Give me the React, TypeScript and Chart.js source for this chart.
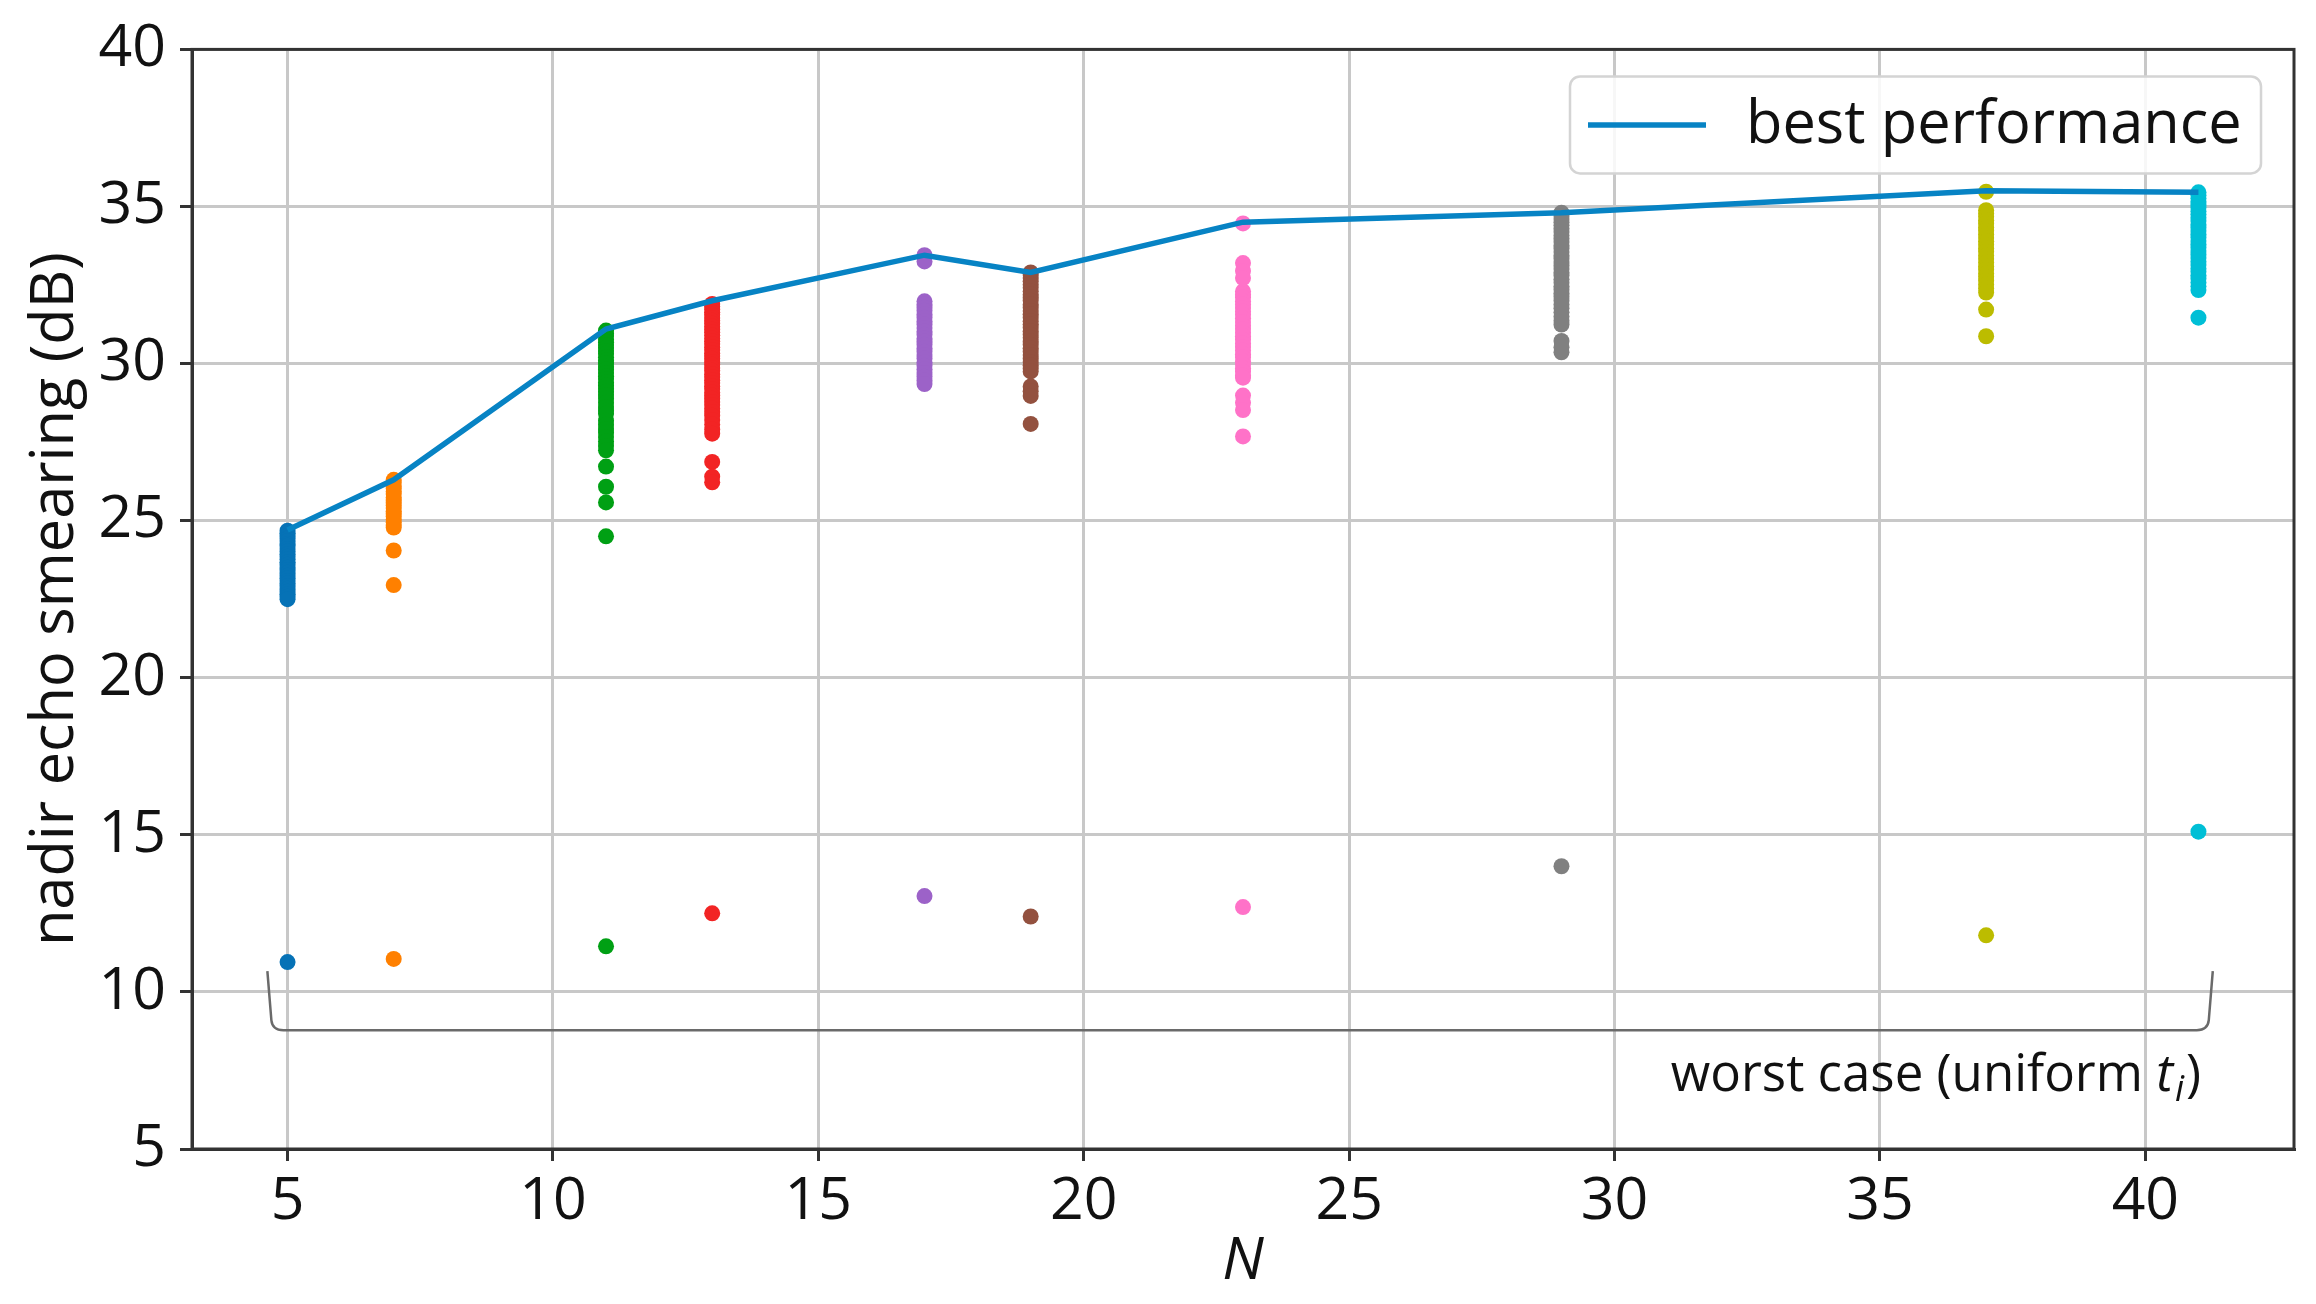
import React, { useEffect, useRef } from "react";
import { Chart, registerables } from "chart.js";

Chart.register(...registerables);

// ---------- data ----------
const nValues = [5, 7, 11, 13, 17, 19, 23, 29, 37, 41];
const bestPerformance = [24.7, 26.3, 31.1, 32.0, 33.45, 32.9, 34.5, 34.8, 35.5, 35.45];
const worstCase = [10.95, 11.05, 11.45, 12.5, 13.05, 12.4, 12.7, 14.0, 11.8, 15.1];

const samplesN5 = [24.68, 24.6, 24.52, 24.43, 24.35, 24.26, 24.2, 24.1, 24.02, 23.93, 23.85, 23.77, 23.68, 23.6, 23.5, 23.43, 23.34, 23.25, 23.17, 23.08, 23.0, 22.92, 22.83, 22.74, 22.66, 22.58, 22.5];
const samplesN7 = [26.3, 26.21, 26.1, 26.02, 25.93, 25.85, 25.74, 25.66, 25.57, 25.48, 25.4, 25.3, 25.22, 25.13, 25.04, 24.95, 24.86, 24.78, 24.05, 22.95];
const samplesN11 = [31.05, 30.96, 30.88, 30.77, 30.68, 30.59, 30.5, 30.4, 30.31, 30.2, 30.1, 30.02, 29.9, 29.81, 29.7, 29.6, 29.51, 29.4, 29.3, 29.2, 29.1, 29.0, 28.88, 28.75, 28.62, 28.5, 28.4, 28.18, 28.05, 27.92, 27.8, 27.66, 27.52, 27.38, 27.24, 26.72, 26.08, 25.58, 24.5];
const samplesN13 = [31.9, 31.82, 31.72, 31.63, 31.55, 31.45, 31.36, 31.27, 31.18, 31.08, 31.0, 30.9, 30.8, 30.71, 30.62, 30.52, 30.43, 30.33, 30.24, 30.15, 30.05, 29.96, 29.86, 29.77, 29.66, 29.57, 29.47, 29.38, 29.28, 29.19, 29.08, 28.98, 28.88, 28.78, 28.68, 28.57, 28.46, 28.34, 28.2, 28.06, 27.9, 27.77, 26.87, 26.4, 26.22];
const samplesN17 = [33.45, 33.25, 31.98, 31.88, 31.78, 31.68, 31.57, 31.46, 31.35, 31.24, 31.13, 31.02, 30.92, 30.8, 30.7, 30.6, 30.49, 30.38, 30.27, 30.16, 30.04, 29.93, 29.82, 29.7, 29.58, 29.46, 29.35];
const samplesN19 = [32.9, 32.82, 32.72, 32.62, 32.52, 32.41, 32.3, 32.2, 32.1, 32.0, 31.88, 31.78, 31.67, 31.57, 31.46, 31.35, 31.25, 31.14, 31.03, 30.92, 30.82, 30.7, 30.6, 30.49, 30.38, 30.27, 30.16, 30.05, 29.95, 29.84, 29.75, 29.27, 29.12, 28.97, 28.08];
const samplesN23 = [34.46, 33.2, 32.95, 32.72, 32.3, 32.2, 32.1, 31.98, 31.88, 31.77, 31.66, 31.55, 31.44, 31.32, 31.2, 31.1, 30.98, 30.87, 30.76, 30.64, 30.53, 30.42, 30.3, 30.19, 30.07, 29.96, 29.85, 29.74, 29.62, 29.55, 28.98, 28.75, 28.52, 27.68];
const samplesN29 = [34.8, 34.7, 34.6, 34.5, 34.4, 34.3, 34.19, 34.08, 33.98, 33.87, 33.76, 33.66, 33.55, 33.44, 33.34, 33.23, 33.12, 33.01, 32.9, 32.8, 32.68, 32.57, 32.46, 32.35, 32.24, 32.13, 32.0, 31.88, 31.76, 31.63, 31.5, 31.36, 31.24, 30.72, 30.52, 30.36];
const samplesN37 = [35.47, 34.88, 34.78, 34.67, 34.56, 34.45, 34.34, 34.23, 34.12, 34.0, 33.89, 33.78, 33.67, 33.56, 33.44, 33.33, 33.22, 33.1, 32.99, 32.87, 32.76, 32.64, 32.52, 32.4, 32.26, 31.72, 30.87];
const samplesN41 = [35.45, 35.36, 35.26, 35.16, 35.06, 34.96, 34.85, 34.75, 34.64, 34.54, 34.43, 34.33, 34.22, 34.12, 34.01, 33.9, 33.8, 33.69, 33.58, 33.47, 33.36, 33.25, 33.14, 33.03, 32.92, 32.81, 32.7, 32.58, 32.46, 32.34, 31.46];

const allSamples = [samplesN5, samplesN7, samplesN11, samplesN13, samplesN17, samplesN19, samplesN23, samplesN29, samplesN37, samplesN41];

const seriesColors = ["#0672b6", "#ff8000", "#00a014", "#f22424", "#9c62c8", "#93513f", "#ff72c8", "#808080", "#bcbc00", "#00bfd6"];
const lineColor = "#0783c4";

const xTicks = [5, 10, 15, 20, 25, 30, 35, 40];
const yTicks = [5, 10, 15, 20, 25, 30, 35, 40];

const legendLabel = "best performance";
const xTitle = "N";
const yTitle = "nadir echo smearing (dB)";
const annotationParts = ["worst case (uniform ", "t", "i", ")"];

const FONT = "'Open Sans', 'Noto Sans', sans-serif";
Chart.defaults.font.family = FONT;

// ---------- plugins ----------
const framePlugin = {
  id: "frame",
  afterDatasetsDraw(chart: any) {
    const { ctx, chartArea: a } = chart;
    ctx.save();
    ctx.strokeStyle = "#333";
    ctx.lineWidth = 3;
    ctx.strokeRect(a.left, a.top, a.right - a.left, a.bottom - a.top);
    ctx.restore();
  },
};

const bracketPlugin = {
  id: "bracket",
  afterDatasetsDraw(chart: any) {
    const { ctx } = chart;
    const xs = chart.scales.x;
    const ys = chart.scales.y;
    const x0 = xs.getPixelForValue(4.62);
    const x1 = xs.getPixelForValue(41.27);
    const yT = ys.getPixelForValue(10.66);
    const yB = ys.getPixelForValue(8.78);
    ctx.save();
    ctx.strokeStyle = "#6a6a6a";
    ctx.lineWidth = 2.5;
    ctx.beginPath();
    ctx.moveTo(x0, yT);
    ctx.lineTo(x0 + 4, yB - 10);
    ctx.quadraticCurveTo(x0 + 5, yB, x0 + 16, yB);
    ctx.lineTo(x1 - 16, yB);
    ctx.quadraticCurveTo(x1 - 5, yB, x1 - 4, yB - 10);
    ctx.lineTo(x1, yT);
    ctx.stroke();

    // text
    const size = 51;
    const normal = `${size}px ${FONT}`;
    const italic = `italic ${size}px ${FONT}`;
    const sub = `italic ${Math.round(size * 0.7)}px ${FONT}`;
    const fonts = [normal, italic, sub, normal];
    const widths = annotationParts.map((t, i) => {
      ctx.font = fonts[i];
      return ctx.measureText(t).width;
    });
    const total = widths.reduce((s, w) => s + w, 0) + 4;
    const right = xs.getPixelForValue(41.05);
    const base = ys.getPixelForValue(6.85);
    let x = right - total;
    ctx.fillStyle = "#111";
    ctx.textBaseline = "alphabetic";
    ctx.textAlign = "left";
    annotationParts.forEach((t, i) => {
      ctx.font = fonts[i];
      ctx.fillText(t, x, i === 2 ? base + 10 : base);
      x += widths[i] + (i === 1 ? 2 : 0) + (i === 2 ? 2 : 0);
    });
    ctx.restore();
  },
};

const boxLegendPlugin = {
  id: "boxLegend",
  afterDraw(chart: any) {
    const { ctx, chartArea: a } = chart;
    const w = 691;
    const h = 97;
    const x = a.right - 33 - w;
    const y = a.top + 27;
    ctx.save();
    ctx.beginPath();
    ctx.roundRect(x, y, w, h, 10);
    ctx.fillStyle = "rgba(255,255,255,0.85)";
    ctx.fill();
    ctx.strokeStyle = "#d4d4d4";
    ctx.lineWidth = 2.5;
    ctx.stroke();
    ctx.strokeStyle = lineColor;
    ctx.lineWidth = 5.5;
    ctx.beginPath();
    ctx.moveTo(x + 18, y + h / 2);
    ctx.lineTo(x + 136, y + h / 2);
    ctx.stroke();
    ctx.fillStyle = "#111";
    ctx.font = `59.5px ${FONT}`;
    ctx.textBaseline = "middle";
    ctx.textAlign = "left";
    ctx.fillText(chart.data.datasets[0].label, x + 176, y + h / 2 + 1);
    ctx.restore();
  },
};

export default function App() {
  const ref = useRef<HTMLCanvasElement>(null);

  useEffect(() => {
    if (!ref.current) return;

    const lineDataset = {
      type: "line" as const,
      label: legendLabel,
      data: nValues.map((n, i) => ({ x: n, y: bestPerformance[i] })),
      borderColor: lineColor,
      backgroundColor: lineColor,
      borderWidth: 5.5,
      pointRadius: 0,
      tension: 0,
      order: 0,
    };

    const scatterDatasets = nValues.map((n, i) => ({
      type: "scatter" as const,
      label: `N=${n}`,
      data: [...allSamples[i], worstCase[i]].map((v) => ({ x: n, y: v })),
      backgroundColor: seriesColors[i],
      borderColor: seriesColors[i],
      borderWidth: 0,
      pointRadius: 8,
      order: 1,
    }));

    const chart = new Chart(ref.current, {
      type: "scatter",
      data: { datasets: [lineDataset as any, ...scatterDatasets] },
      options: {
        animation: false,
        responsive: false,
        layout: { padding: { top: 43, right: 22, left: 0, bottom: 0 } },
        plugins: { legend: { display: false }, tooltip: { enabled: false } },
        scales: {
          x: {
            type: "linear",
            min: 3.2,
            max: 42.8,
            afterBuildTicks: (s: any) => {
              s.ticks = xTicks.map((v) => ({ value: v }));
            },
            afterFit: (s: any) => {
              s.height = 155;
            },
            grid: {
              color: "#c8c8c8",
              lineWidth: 3,
              tickLength: 12,
              tickColor: "#333",
              tickWidth: 3,
            },
            border: { display: true, color: "#333", width: 3 },
            ticks: { font: { size: 59 }, color: "#111", padding: 6, maxRotation: 0 },
            title: {
              display: true,
              text: xTitle,
              font: { size: 59, style: "italic" },
              color: "#111",
              padding: { top: 0, bottom: 6 },
            },
          },
          y: {
            type: "linear",
            min: 5,
            max: 40,
            afterBuildTicks: (s: any) => {
              s.ticks = yTicks.map((v) => ({ value: v }));
            },
            afterFit: (s: any) => {
              s.width = 192;
            },
            grid: {
              color: "#c8c8c8",
              lineWidth: 3,
              tickLength: 12,
              tickColor: "#333",
              tickWidth: 3,
            },
            border: { display: true, color: "#333", width: 3 },
            ticks: { font: { size: 59 }, color: "#111", padding: 14 },
            title: {
              display: true,
              text: yTitle,
              font: { size: 59.5 },
              color: "#111",
              padding: { top: 20, bottom: 0 },
            },
          },
        },
      },
      plugins: [framePlugin, bracketPlugin, boxLegendPlugin],
    });

    return () => chart.destroy();
  }, []);

  return (
    <div style={{ position: "fixed", left: 0, top: 0, width: 2316, height: 1304, background: "#fff" }}>
      <canvas ref={ref} width={2316} height={1304} style={{ display: "block", width: 2316, height: 1304 }} />
    </div>
  );
}
